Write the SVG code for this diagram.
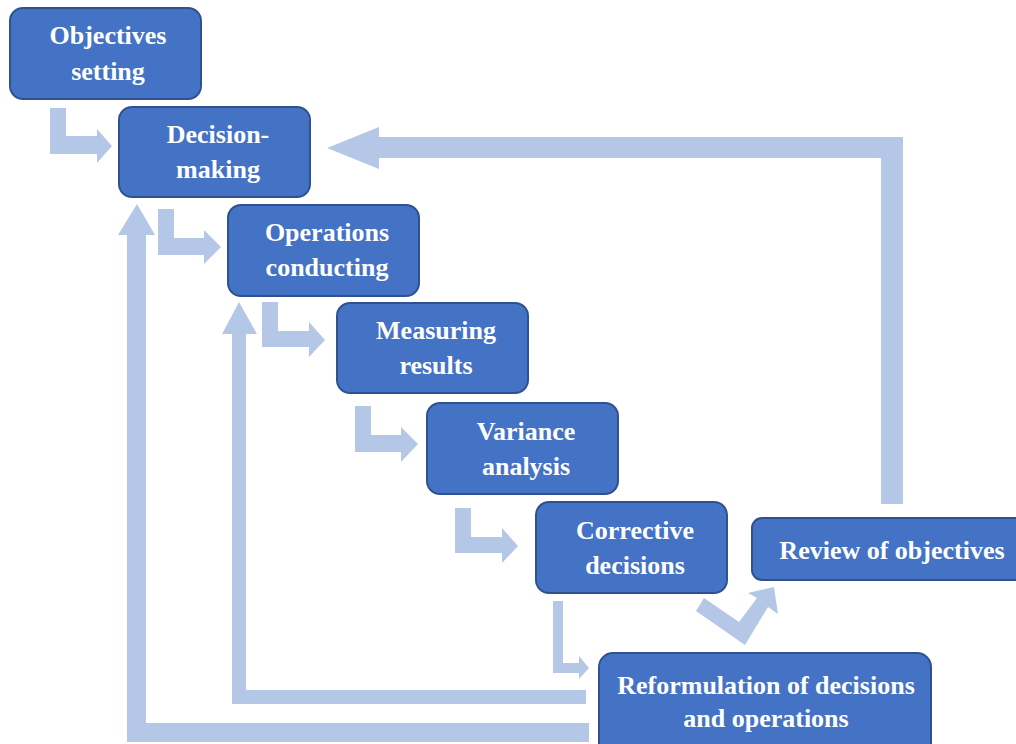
<svg xmlns="http://www.w3.org/2000/svg" width="1016" height="744" viewBox="0 0 1016 744">
<style>
.box{fill:#4472C4;stroke:#2F528F;stroke-width:2}
.conn{fill:#B4C7E7;stroke:none}
</style>
<rect width="1016" height="744" fill="#FFFFFF"/>
<g id="connectors">
<polygon class="conn" points="50,108 66,108 66,136 97,136 97,129 112,146 97,163 97,154 50,154"/>
<polygon class="conn" points="158,209 174,209 174,238 204,238 204,230 221,247 204,264 204,255 158,255"/>
<polygon class="conn" points="262,302 278,302 278,331 309,331 309,322 325,340 309,357 309,347 262,347"/>
<polygon class="conn" points="355,406 371,406 371,435 401,435 401,427 418,444 401,462 401,452 355,452"/>
<polygon class="conn" points="455,508 471,508 471,537 502,537 502,528 518,546 502,563 502,553 455,553"/>
<polygon class="conn" points="553,601 563,601 563,663 579,663 579,656 589,668 579,679 579,673 553,673"/>
<polygon class="conn" points="704,598 739,622 757,598 748,593 774,587 778,614 768,607 745,645 696,611"/>
<polygon class="conn" points="903,137 903,504 881,504 881,158 379,158 379,169 327,148 379,127 379,137"/>
<polygon class="conn" points="586,690 586,704 232,704 232,334 222,334 239,302 257,334 246,334 246,690"/>
<polygon class="conn" points="589,723 589,742 127,742 127,235 118,235 137,204 155,235 146,235 146,723"/>
</g>
<g font-family="Liberation Serif, serif" font-weight="bold" font-size="26" fill="#FFFFFF" text-anchor="middle">
<g id="node-objectives">
<rect class="box" x="10" y="8" width="191" height="91" rx="13"/>
<text x="108" y="44">Objectives</text>
<text x="108" y="80">setting</text>
</g>
<g id="node-decision">
<rect class="box" x="119" y="107" width="191" height="90" rx="13"/>
<text x="218" y="143">Decision-</text>
<text x="218" y="178">making</text>
</g>
<g id="node-operations">
<rect class="box" x="228" y="205" width="191" height="91" rx="13"/>
<text x="327" y="241">Operations</text>
<text x="327" y="276">conducting</text>
</g>
<g id="node-measuring">
<rect class="box" x="337" y="303" width="191" height="90" rx="13"/>
<text x="436" y="339">Measuring</text>
<text x="436" y="374">results</text>
</g>
<g id="node-variance">
<rect class="box" x="427" y="403" width="191" height="91" rx="13"/>
<text x="526" y="440">Variance</text>
<text x="526" y="475">analysis</text>
</g>
<g id="node-corrective">
<rect class="box" x="536" y="502" width="191" height="91" rx="13"/>
<text x="635" y="539">Corrective</text>
<text x="635" y="574">decisions</text>
</g>
<g id="node-review">
<rect class="box" x="752" y="518" width="280" height="62" rx="10"/>
<text x="892" y="559">Review of objectives</text>
</g>
<g id="node-reformulation">
<rect class="box" x="599" y="653" width="332" height="110" rx="14"/>
<text x="766" y="694">Reformulation of decisions</text>
<text x="766" y="727">and operations</text>
</g>
</g>
</svg>
